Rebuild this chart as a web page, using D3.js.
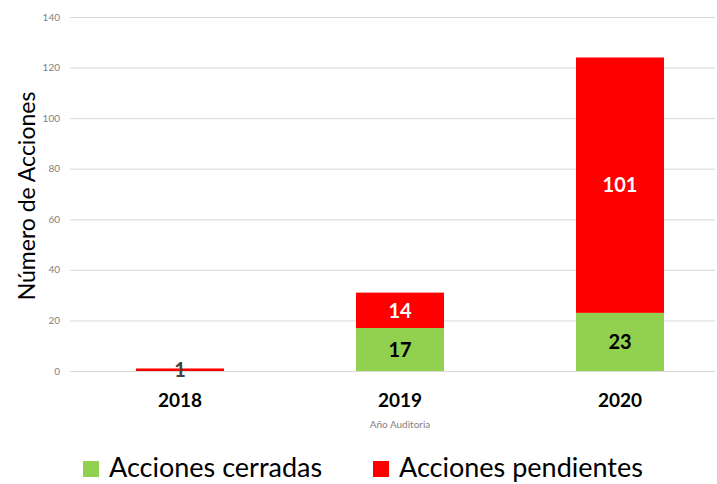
<!DOCTYPE html>
<html>
<head>
<meta charset="utf-8">
<script src="https://cdn.jsdelivr.net/npm/d3@7"></script>
<style>
  body { margin: 0; background: #fff; }
  text { font-family: Lato, "Open Sans", sans-serif; }
</style>
</head>
<body>
<svg id="chart" width="717" height="484"></svg>
<script>
var years = ["2018", "2019", "2020"];
var cerradas = [0, 17, 23];
var pendientes = [1, 14, 101];
var yTicks = [0, 20, 40, 60, 80, 100, 120, 140];

var GREEN = "#92D050", RED = "#FF0000";

var svg = d3.select("#chart");

var xScale = d3.scaleBand()
  .domain(years)
  .range([70, 730])
  .paddingInner(0.6)
  .paddingOuter(0.3);

var yScale = d3.scaleLinear()
  .domain([0, 140])
  .range([371, 17]);

// gridlines
svg.append("g").selectAll("line")
  .data(yTicks)
  .enter().append("line")
  .attr("x1", 70).attr("x2", 715)
  .attr("y1", function(d) { return yScale(d) + 0.5; })
  .attr("y2", function(d) { return yScale(d) + 0.5; })
  .attr("stroke", "#d9d9d9")
  .attr("stroke-width", 1);

// y tick labels
svg.append("g").selectAll("text")
  .data(yTicks)
  .enter().append("text")
  .attr("x", 60)
  .attr("y", function(d) { return yScale(d); })
  .attr("dy", "0.35em")
  .attr("text-anchor", "end")
  .attr("font-size", 10)
  .attr("fill", "#7f7f7f")
  .text(function(d) { return d; });

var rows = years.map(function(y, i) {
  return { year: y, cerradas: cerradas[i], pendientes: pendientes[i] };
});

var stack = d3.stack().keys(["cerradas", "pendientes"])(rows);
var colors = { cerradas: GREEN, pendientes: RED };

stack.forEach(function(layer) {
  svg.append("g").selectAll("rect")
    .data(layer)
    .enter().append("rect")
    .attr("x", function(d) { return xScale(d.data.year); })
    .attr("width", xScale.bandwidth())
    .attr("y", function(d) { return yScale(d[1]); })
    .attr("height", function(d) { return Math.max(0, yScale(d[0]) - yScale(d[1])); })
    .attr("fill", colors[layer.key]);
});

// value labels
stack.forEach(function(layer) {
  svg.append("g").selectAll("text")
    .data(layer.filter(function(d) { return d[1] - d[0] > 0; }))
    .enter().append("text")
    .attr("x", function(d) { return xScale(d.data.year) + xScale.bandwidth() / 2; })
    .attr("y", function(d) { return (yScale(d[0]) + yScale(d[1])) / 2; })
    .attr("dy", "0.36em")
    .attr("text-anchor", "middle")
    .attr("font-size", 20)
    .attr("font-weight", "bold")
    .attr("fill", function(d) {
      if (layer.key === "cerradas") return "#000";
      return (d[1] - d[0]) < 5 ? "#404040" : "#fff";
    })
    .text(function(d) { return d[1] - d[0]; });
});

// x axis labels
svg.append("g").selectAll("text")
  .data(years)
  .enter().append("text")
  .attr("x", function(d) { return xScale(d) + xScale.bandwidth() / 2; })
  .attr("y", 407)
  .attr("text-anchor", "middle")
  .attr("font-size", 19)
  .attr("font-weight", "bold")
  .attr("fill", "#000")
  .text(function(d) { return d; });

svg.append("text")
  .attr("x", 400).attr("y", 428)
  .attr("text-anchor", "middle")
  .attr("font-size", 10)
  .attr("fill", "#7f7f7f")
  .text("Año Auditoria");

svg.append("text")
  .attr("transform", "translate(35,196) rotate(-90)")
  .attr("text-anchor", "middle")
  .attr("font-size", 23)
  .attr("fill", "#000")
  .text("Número de Acciones");

// legend
var legend = [
  { name: "Acciones cerradas", color: GREEN, x: 83 },
  { name: "Acciones pendientes", color: RED, x: 373 }
];
var lg = svg.append("g").selectAll("g")
  .data(legend)
  .enter().append("g");
lg.append("rect")
  .attr("x", function(d) { return d.x; })
  .attr("y", 461).attr("width", 16).attr("height", 16)
  .attr("fill", function(d) { return d.color; });
lg.append("text")
  .attr("x", function(d) { return d.x + 26; })
  .attr("y", 477)
  .attr("font-size", 27)
  .attr("fill", "#000")
  .text(function(d) { return d.name; });
</script>
</body>
</html>
